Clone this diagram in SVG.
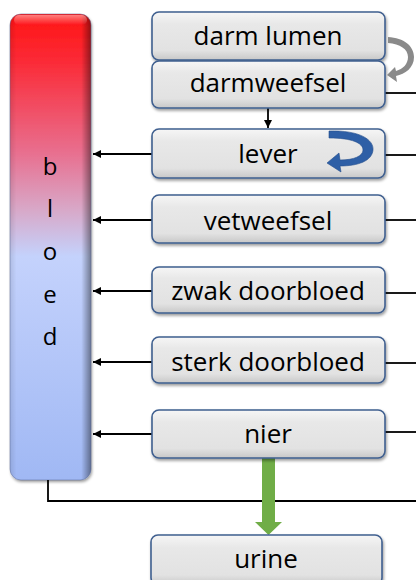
<svg xmlns="http://www.w3.org/2000/svg" width="416" height="580" viewBox="0 0 416 580">
  <style>
    .box { fill: url(#boxFill); stroke: #3f5f8f; stroke-width: 1.6; filter: url(#shadow); }
    .lbl { font-family: "Open Sans", "Liberation Sans", sans-serif; font-size: 26px; fill: #000; text-anchor: middle; }
    .vert { font-family: "Open Sans", "Liberation Sans", sans-serif; font-size: 24px; fill: #000; text-anchor: middle; }
    .conn { stroke: #000; stroke-width: 1.8; fill: none; }
  </style>
  <defs>
    <linearGradient id="boxFill" x1="0" y1="0" x2="0" y2="1">
      <stop offset="0" stop-color="#f6f6f6"/>
      <stop offset="0.25" stop-color="#e8e8e8"/>
      <stop offset="0.8" stop-color="#e2e2e2"/>
      <stop offset="1" stop-color="#c8c8c8"/>
    </linearGradient>
    <linearGradient id="bloodFill" x1="0" y1="0" x2="0" y2="1">
      <stop offset="0" stop-color="#ff1414"/>
      <stop offset="0.1" stop-color="#fb2a36"/>
      <stop offset="0.3" stop-color="#e87090"/>
      <stop offset="0.42" stop-color="#d8a8c8"/>
      <stop offset="0.52" stop-color="#c4d2fc"/>
      <stop offset="1" stop-color="#a0b8f4"/>
    </linearGradient>
    <linearGradient id="bloodEdge" x1="0" y1="0" x2="1" y2="0">
      <stop offset="0" stop-color="#000" stop-opacity="0.1"/>
      <stop offset="0.08" stop-color="#000" stop-opacity="0"/>
      <stop offset="0.88" stop-color="#000" stop-opacity="0"/>
      <stop offset="1" stop-color="#000" stop-opacity="0.42"/>
    </linearGradient>
    <linearGradient id="bloodTop" x1="0" y1="0" x2="0" y2="1">
      <stop offset="0" stop-color="#fff" stop-opacity="0.45"/>
      <stop offset="1" stop-color="#fff" stop-opacity="0"/>
    </linearGradient>
    <filter id="shadow" x="-10%" y="-20%" width="125%" height="150%">
      <feGaussianBlur in="SourceAlpha" stdDeviation="1.5"/>
      <feOffset dx="1" dy="2" result="b"/>
      <feComponentTransfer><feFuncA type="linear" slope="0.4"/></feComponentTransfer>
      <feMerge><feMergeNode/><feMergeNode in="SourceGraphic"/></feMerge>
    </filter>
    <marker id="head" viewBox="0 0 10 10" refX="10" refY="5" markerWidth="8" markerHeight="8" orient="auto" markerUnits="userSpaceOnUse">
      <path d="M0,0 L10,5 L0,10 z" fill="#000"/>
    </marker>
  </defs>

  <!-- blood column -->
  <g id="bloed">
    <rect x="10" y="14" width="81" height="466" rx="11" fill="url(#bloodFill)" filter="url(#shadow)"/>
    <rect x="10" y="14" width="81" height="466" rx="11" fill="url(#bloodEdge)"/>
    <rect x="14" y="15" width="73" height="10" rx="5" fill="url(#bloodTop)"/>
    <rect x="10" y="14" width="81" height="466" rx="11" fill="none" stroke="#5a6a9a" stroke-opacity="0.5" stroke-width="1"/>
    <text class="vert" x="50" y="175">b</text>
    <text class="vert" x="50" y="217">l</text>
    <text class="vert" x="50" y="260">o</text>
    <text class="vert" x="50" y="303">e</text>
    <text class="vert" x="50" y="345">d</text>
  </g>

  <!-- connectors -->
  <g id="connectors">
    <line class="conn" x1="152" y1="154" x2="93" y2="154" marker-end="url(#head)"/>
    <line class="conn" x1="152" y1="220" x2="93" y2="220" marker-end="url(#head)"/>
    <line class="conn" x1="152" y1="291" x2="93" y2="291" marker-end="url(#head)"/>
    <line class="conn" x1="152" y1="362" x2="93" y2="362" marker-end="url(#head)"/>
    <line class="conn" x1="152" y1="434" x2="93" y2="434" marker-end="url(#head)"/>
    <line class="conn" x1="268" y1="108" x2="268" y2="128" marker-end="url(#head)"/>
    <line class="conn" x1="385" y1="93" x2="416" y2="93"/>
    <line class="conn" x1="385" y1="155" x2="416" y2="155"/>
    <line class="conn" x1="385" y1="220" x2="416" y2="220"/>
    <line class="conn" x1="385" y1="293" x2="416" y2="293"/>
    <line class="conn" x1="385" y1="363" x2="416" y2="363"/>
    <line class="conn" x1="385" y1="432" x2="416" y2="432"/>
    <polyline class="conn" points="48,480 48,501 416,501"/>
    <!-- kidney to urine -->
    <path d="M262,458 H275 V522 H282 L268.5,535 L255,522 H262 Z" fill="#70ad47"/>
  </g>

  <g id="darm-lumen">
    <rect class="box" x="152" y="12" width="233" height="48" rx="7"/>
    <text class="lbl" x="268" y="45">darm lumen</text>
  </g>
  <g id="darmweefsel">
    <rect class="box" x="152" y="61" width="233" height="47" rx="7"/>
    <text class="lbl" x="268" y="92">darmweefsel</text>
  </g>
  <g id="lever">
    <rect class="box" x="152" y="129" width="233" height="49" rx="7"/>
    <text class="lbl" x="268" y="163">lever</text>
    <!-- recirculation arrow -->
    <path d="M329,131 C360,130 374,140 373,150 C372,161 358,166 340,166 L341,172 L327,163 L339,153 L340,160 C354,160 363,156 363,150 C363,143 352,138 329,138 Z" fill="#2e5fa6" stroke="#244e8c" stroke-width="0.6"/>
  </g>
  <g id="vetweefsel">
    <rect class="box" x="152" y="195" width="233" height="48" rx="7"/>
    <text class="lbl" x="268" y="230">vetweefsel</text>
  </g>
  <g id="zwak-doorbloed">
    <rect class="box" x="152" y="267" width="233" height="46" rx="7"/>
    <text class="lbl" x="268" y="300">zwak doorbloed</text>
  </g>
  <g id="sterk-doorbloed">
    <rect class="box" x="152" y="337" width="233" height="46" rx="7"/>
    <text class="lbl" x="268" y="371">sterk doorbloed</text>
  </g>
  <g id="nier">
    <rect class="box" x="152" y="410" width="233" height="48" rx="7"/>
    <text class="lbl" x="268" y="443">nier</text>
  </g>
  <g id="urine">
    <rect class="box" x="151" y="535" width="231" height="50" rx="7"/>
    <text class="lbl" x="266" y="568">urine</text>
  </g>

  <!-- gut recirculation arrow -->
  <g id="darm-loop">
    <path d="M388,37 C404,38 414,46 414,57 C414,68 405,74 396,76 L397,82 L387,75 L395,67 L396,71 C403,69 408,64 408,57 C408,49 400,44 388,43 Z" fill="#8a8a8a"/>
  </g>
</svg>
